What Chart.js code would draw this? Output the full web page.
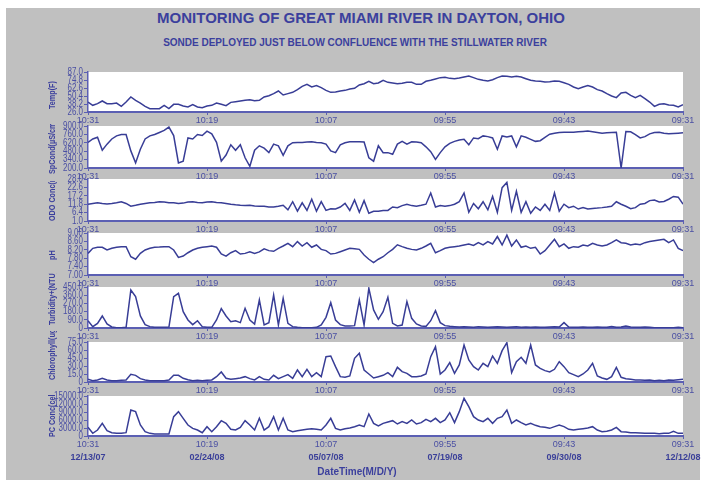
<!DOCTYPE html>
<html>
<head>
<meta charset="utf-8">
<script src="https://cdn.jsdelivr.net/npm/chart.js@4"></script>
<style>
  body { margin: 0; background: #fff; width: 705px; height: 480px; position: relative; overflow: hidden; font-family: "Liberation Sans", Arial, sans-serif; }
  #frame { position: absolute; left: 6px; top: 8px; width: 694px; height: 472px; background: #c0c0c0; }
  .head { position: absolute; left: 0; text-align: center; font-weight: bold; color: #3b3f9d; white-space: nowrap; }
  #title { top: 9px; width: 722px; font-size: 15px; line-height: 18px; }
  #subtitle { top: 37px; width: 710px; font-size: 10px; line-height: 12px; }
  canvas { position: absolute; left: 0; }
</style>
</head>
<body>
<div id="frame"></div>
<div class="head" id="title">MONITORING OF GREAT MIAMI RIVER IN DAYTON, OHIO</div>
<div class="head" id="subtitle">SONDE DEPLOYED JUST BELOW CONFLUENCE WITH THE STILLWATER RIVER</div>
<script>
// x axis: sample index 0..125 over 12/13/07 - 12/12/08
const timeLabels = ['10:31', '10:19', '10:07', '09:55', '09:43', '09:31'];
const dateLabels = ['12/13/07', '02/24/08', '05/07/08', '07/19/08', '09/30/08', '12/12/08'];
const tickAt = [0, 25, 50, 75, 100, 125];

const tempTicks = [26.0, 38.2, 50.4, 62.6, 74.8, 87.0];
const condTicks = [200, 340, 480, 620, 760, 900];
const odoTicks = [1.0, 6.4, 11.8, 17.2, 22.6, 28.0];
const phTicks = [7.0, 7.4, 7.8, 8.2, 8.6, 9.0];
const turbTicks = [0, 90, 180, 270, 360, 450];
const chlTicks = [0, 15, 30, 45, 60, 75];
const pcTicks = [0, 3000, 6000, 9000, 12000, 15000];

const tempF = [
  41.2, 36.2, 38.7, 42.8, 38.7, 38.7, 39.7, 34.6, 41.2, 48.9,
  43.8, 39.7, 34.6, 31.1, 31.1, 31.1, 36.2, 31.1, 37.7, 37.7,
  35.1, 33.6, 37.2, 33.6, 32.6, 35.1, 36.2, 39.7, 37.7, 35.6,
  40.7, 41.8, 42.8, 43.8, 44.8, 43.3, 43.8, 48.9, 50.9, 54.0,
  58.0, 51.9, 54.0, 56.0, 60.0, 65.1, 68.2, 64.1, 66.2, 63.1,
  59.0, 56.0, 56.5, 58.0, 59.0, 61.1, 62.1, 67.2, 69.2, 72.8,
  69.2, 70.2, 74.3, 71.2, 70.2, 69.2, 69.7, 71.2, 71.2, 68.2,
  68.2, 72.8, 74.3, 76.3, 78.4, 78.9, 77.3, 76.8, 77.8, 79.4,
  80.9, 78.4, 75.8, 74.3, 73.3, 75.3, 78.4, 80.9, 80.4, 79.4,
  80.4, 79.4, 76.8, 74.3, 73.3, 72.8, 71.7, 72.3, 73.3, 72.8,
  70.7, 68.2, 64.1, 61.6, 64.1, 66.2, 64.1, 60.1, 58.0, 54.0,
  50.4, 47.9, 55.0, 56.0, 51.4, 47.9, 51.4, 46.3, 41.2, 34.6,
  37.7, 38.7, 36.7, 36.2, 33.6, 37.2
];

const spCond = [
  627, 684, 712, 496, 598, 684, 735, 758, 758, 485,
  285, 513, 684, 735, 758, 792, 826, 883, 741, 285,
  314, 701, 684, 758, 741, 815, 769, 627, 314, 416,
  587, 496, 587, 371, 228, 496, 570, 530, 456, 598,
  570, 411, 570, 621, 627, 627, 632, 638, 627, 621,
  598, 485, 456, 587, 621, 638, 638, 638, 632, 371,
  314, 570, 456, 456, 428, 598, 644, 598, 638, 632,
  621, 553, 473, 342, 456, 553, 610, 644, 667, 678,
  587, 701, 689, 735, 723, 701, 513, 735, 718, 735,
  553, 735, 712, 678, 644, 655, 712, 763, 780, 792,
  797, 797, 797, 803, 809, 815, 803, 792, 780, 786,
  792, 797, 200, 809, 803, 758, 701, 723, 769, 792,
  797, 780, 769, 775, 780, 786
];

const odoConc = [
  11.8, 12.3, 12.7, 12.3, 12.0, 12.3, 12.7, 13.4, 12.3, 10.5,
  11.1, 11.8, 12.3, 12.7, 12.9, 13.4, 13.2, 12.7, 12.7, 12.3,
  12.5, 13.2, 13.4, 12.9, 12.7, 13.2, 13.4, 12.9, 12.7, 12.3,
  11.8, 11.4, 11.1, 10.9, 11.1, 10.7, 10.5, 10.5, 10.0, 10.0,
  10.5, 11.1, 8.2, 13.4, 7.3, 12.7, 7.8, 15.0, 7.3, 13.4,
  7.8, 8.9, 8.7, 10.0, 12.3, 7.8, 14.5, 6.6, 14.1, 6.0,
  7.3, 7.3, 7.8, 7.8, 10.0, 9.6, 10.9, 11.8, 10.9, 10.5,
  11.1, 11.8, 19.0, 10.0, 10.9, 10.5, 10.9, 11.8, 13.4, 19.0,
  6.6, 12.3, 8.9, 13.4, 8.2, 16.8, 6.6, 22.4, 25.8, 7.8,
  20.1, 6.6, 13.4, 6.0, 10.0, 7.8, 11.8, 7.8, 19.0, 7.3,
  11.8, 9.6, 10.5, 8.7, 9.6, 8.7, 9.1, 9.3, 9.6, 10.0,
  10.5, 13.4, 11.8, 10.5, 8.9, 9.6, 11.8, 12.3, 14.1, 14.5,
  13.2, 13.6, 15.0, 16.8, 16.3, 11.8
];

const pH = [
  8.03, 8.27, 8.32, 8.32, 8.19, 8.27, 8.32, 8.35, 8.35, 7.87,
  7.75, 8.03, 8.19, 8.27, 8.32, 8.33, 8.35, 8.35, 8.19, 7.84,
  7.90, 8.06, 8.19, 8.27, 8.32, 8.35, 8.38, 8.32, 8.00, 7.90,
  8.06, 8.16, 8.00, 8.03, 8.11, 8.03, 8.10, 8.25, 8.16, 8.13,
  8.27, 8.38, 8.51, 8.35, 8.59, 8.38, 8.54, 8.32, 8.43, 8.22,
  8.16, 8.00, 8.03, 8.11, 8.19, 8.27, 8.25, 8.22, 7.95, 7.75,
  7.59, 7.75, 7.87, 8.06, 8.22, 8.44, 8.35, 8.27, 8.22, 8.19,
  8.27, 8.38, 8.51, 8.06, 8.16, 8.27, 8.32, 8.35, 8.38, 8.43,
  8.48, 8.41, 8.54, 8.43, 8.59, 8.48, 8.83, 8.43, 8.90, 8.38,
  8.67, 8.32, 8.38, 8.27, 8.32, 8.00, 8.16, 8.43, 8.70, 8.35,
  8.48, 8.27, 8.35, 8.32, 8.43, 8.38, 8.51, 8.43, 8.38, 8.43,
  8.54, 8.67, 8.54, 8.51, 8.43, 8.48, 8.44, 8.54, 8.59, 8.63,
  8.67, 8.70, 8.54, 8.67, 8.27, 8.16
];

const turbidity = [
  80, 15, 51, 132, 44, 11, 4, 4, 7, 417,
  344, 132, 37, 15, 7, 7, 7, 11, 344, 381,
  179, 88, 37, 80, 15, 7, 7, 88, 212, 132,
  70, 80, 59, 216, 88, 44, 307, 33, 59, 362,
  33, 326, 51, 15, 7, 4, 4, 4, 7, 33,
  117, 278, 88, 37, 22, 22, 26, 307, 33, 436,
  198, 95, 179, 337, 51, 22, 33, 289, 106, 44,
  22, 18, 80, 190, 59, 26, 18, 15, 11, 15,
  11, 7, 15, 11, 7, 11, 15, 11, 7, 11,
  15, 7, 11, 7, 11, 7, 7, 11, 15, 11,
  59, 11, 7, 7, 11, 7, 7, 11, 7, 7,
  15, 7, 11, 22, 11, 7, 7, 11, 7, 4,
  4, 4, 4, 4, 7, 4
];

const chlorophyll = [
  5.0, 2.5, 3.8, 6.9, 3.8, 2.5, 2.5, 3.1, 3.8, 14.4,
  12.5, 6.3, 3.8, 2.5, 2.5, 2.5, 2.5, 3.8, 12.5, 12.5,
  6.9, 4.4, 2.5, 3.1, 2.5, 3.1, 3.8, 10.0, 18.8, 6.9,
  5.0, 6.3, 7.5, 10.0, 6.3, 3.8, 10.0, 5.0, 3.8, 12.5,
  6.3, 10.0, 13.8, 6.9, 22.5, 10.0, 23.8, 10.0, 17.5, 10.0,
  47.5, 48.8, 28.8, 10.0, 8.8, 11.3, 44.4, 53.8, 22.5, 15.0,
  7.5, 10.0, 12.5, 17.5, 10.0, 27.5, 19.4, 16.3, 10.0, 10.0,
  11.3, 15.0, 47.5, 66.3, 15.0, 22.5, 36.3, 16.3, 31.9, 69.4,
  41.3, 28.8, 22.5, 35.0, 28.8, 48.8, 35.0, 58.8, 73.8, 17.5,
  38.1, 46.3, 35.0, 69.4, 31.9, 25.6, 21.3, 18.8, 23.8, 38.1,
  28.8, 17.5, 13.8, 10.0, 15.0, 22.5, 35.0, 11.3, 7.5, 5.0,
  10.0, 27.5, 8.8, 6.3, 5.0, 3.8, 3.8, 3.1, 3.8, 2.5,
  3.1, 2.5, 3.8, 3.1, 4.4, 5.0
];

const pcConc = [
  3250, 1000, 2250, 4750, 2000, 1250, 1000, 1000, 1250, 9750,
  9125, 4125, 1625, 1000, 750, 750, 750, 750, 7250, 9125,
  6625, 4125, 2875, 2250, 1250, 3500, 1625, 3500, 5750, 4750,
  2500, 2250, 3250, 5750, 4125, 2250, 6625, 2250, 3500, 7250,
  2250, 6625, 2250, 1625, 2000, 2250, 2500, 2750, 2500, 2250,
  4125, 6625, 2875, 2250, 2750, 3000, 3500, 4125, 3500, 8250,
  4750, 3750, 4750, 5250, 5750, 4500, 5375, 4750, 6000, 4500,
  5000, 6250, 5375, 6625, 5000, 6000, 8750, 5000, 9125, 14125,
  11000, 7250, 6000, 5375, 6625, 4750, 6625, 7250, 9750, 4750,
  6000, 5000, 4125, 4750, 4000, 3500, 3250, 2875, 3500, 4125,
  3500, 2500, 2250, 2500, 2750, 3000, 3500, 2250, 1625, 1750,
  2250, 3250, 1625, 1500, 1250, 1250, 1125, 1000, 1000, 1000,
  875, 1000, 1000, 1750, 1000, 1000
];

const lineColor = '#383d96';
const axisColor = '#5b5fb3';
const labelColor = '#4a4fa3';
const font = '"Liberation Sans", Arial, sans-serif';

// page layout of each panel (plot top / bottom) and where its side title starts / is cut
const panels = [
  { data: tempF, ticks: tempTicks, dec: 1, title: 'Temp(F)', top: 72, bottom: 112, start: -3, clipTop: -3 },
  { data: spCond, ticks: condTicks, dec: 1, title: 'SpCond(\u00b5S/cm)', top: 126, bottom: 168, start: 6, clipTop: -2 },
  { data: odoConc, ticks: odoTicks, dec: 1, title: 'ODO Conc(mg/L)', top: 179, bottom: 221, start: 0, clipTop: 2 },
  { data: pH, ticks: phTicks, dec: 2, title: 'pH', top: 233, bottom: 275, start: -15, clipTop: 0 },
  { data: turbidity, ticks: turbTicks, dec: 1, title: 'Turbidity+(NTU)', top: 287, bottom: 328, start: -3, clipTop: -14 },
  { data: chlorophyll, ticks: chlTicks, dec: 1, title: 'Chlorophyll(ug/L)', top: 342, bottom: 382, start: -2, clipTop: -11 },
  { data: pcConc, ticks: pcTicks, dec: 1, title: 'PC Conc(cells/mL)', top: 396, bottom: 436, start: 1, clipTop: -1 }
];

const plotBg = {
  id: 'plotBg',
  beforeDraw(chart) {
    const { ctx, chartArea: a } = chart;
    ctx.save();
    ctx.fillStyle = '#ffffff';
    ctx.fillRect(a.left, a.top, a.right - a.left, a.bottom - a.top);
    ctx.restore();
  }
};

// y tick labels, drawn a little condensed like the original
const yLabels = {
  id: 'yLabels',
  afterDraw(chart, args, opts) {
    const { ctx } = chart;
    const s = chart.scales.y;
    ctx.save();
    ctx.font = '10px ' + font;
    ctx.fillStyle = labelColor;
    ctx.textAlign = 'right';
    ctx.textBaseline = 'middle';
    s.ticks.forEach(t => {
      const txt = t.value === 0 ? '0' : t.value.toFixed(opts.dec);
      ctx.save();
      ctx.translate(s.right - 5, s.getPixelForValue(t.value));
      ctx.scale(0.8, 1);
      ctx.fillText(txt, 0, 0);
      ctx.restore();
    });
    ctx.restore();
  }
};

const sideTitle = {
  id: 'sideTitle',
  afterDraw(chart, args, opts) {
    const { ctx, chartArea: a } = chart;
    ctx.save();
    ctx.beginPath();
    ctx.rect(40, a.top + opts.clipTop, 20, a.bottom + 12 - a.top - opts.clipTop);
    ctx.clip();
    ctx.translate(53, a.bottom + opts.start);
    ctx.rotate(-Math.PI / 2);
    ctx.scale(0.8, 1);
    ctx.font = 'bold 9px ' + font;
    ctx.fillStyle = '#3b3f9d';
    ctx.textAlign = 'left';
    ctx.textBaseline = 'middle';
    ctx.fillText(opts.text, 0, 0);
    ctx.restore();
  }
};

const xTitle = {
  id: 'xTitle',
  afterDraw(chart, args, opts) {
    if (!opts.text) return;
    const { ctx, chartArea: a } = chart;
    ctx.save();
    ctx.font = 'bold 10px ' + font;
    ctx.fillStyle = '#3b3f9d';
    ctx.textAlign = 'center';
    ctx.textBaseline = 'middle';
    ctx.fillText(opts.text, a.left + 269, a.bottom + 36);
    ctx.restore();
  }
};

panels.forEach((p, k) => {
  const last = k === panels.length - 1;
  const cv = document.createElement('canvas');
  const below = last ? 44 : 16;
  cv.width = 705;
  cv.height = p.bottom - p.top + 22 + below;
  cv.style.top = (p.top - 22) + 'px';
  document.body.appendChild(cv);

  const scales = {
    x: {
      type: 'linear',
      min: tickAt[0],
      max: tickAt[tickAt.length - 1],
      weight: 0,
      afterBuildTicks: s => { s.ticks = tickAt.map(v => ({ value: v })); },
      afterFit: s => { s.height = last ? 14 : 16; },
      grid: { drawOnChartArea: false, color: axisColor, tickLength: 3 },
      border: { color: axisColor, width: 2 },
      ticks: {
        autoSkip: false, maxRotation: 0, padding: 0,
        color: labelColor, font: { family: font, size: 9 },
        callback: (v, i) => timeLabels[i]
      }
    },
    y: {
      min: p.ticks[0],
      max: p.ticks[p.ticks.length - 1],
      afterBuildTicks: s => { s.ticks = p.ticks.map(v => ({ value: v })); },
      afterFit: s => { s.width = 88; },
      grid: { drawOnChartArea: false, color: axisColor, tickLength: 4 },
      border: { color: axisColor, width: 1.5 },
      ticks: { display: false }
    }
  };

  if (last) {
    scales.x2 = {
      type: 'linear',
      position: 'bottom',
      min: tickAt[0],
      max: tickAt[tickAt.length - 1],
      weight: 1,
      afterBuildTicks: s => { s.ticks = tickAt.map(v => ({ value: v })); },
      afterFit: s => { s.height = 14; },
      grid: { display: false, drawTicks: false },
      border: { display: false },
      ticks: {
        autoSkip: false, maxRotation: 0, padding: 2,
        color: '#3b4099', font: { family: font, size: 9, weight: 'bold' },
        callback: (v, i) => dateLabels[i]
      }
    };
  }

  new Chart(cv, {
    type: 'line',
    data: {
      labels: p.data.map((v, i) => i),
      datasets: [{
        data: p.data,
        borderColor: lineColor,
        borderWidth: 1.5,
        pointRadius: 0,
        tension: 0,
        fill: false
      }]
    },
    options: {
      responsive: false,
      animation: false,
      events: [],
      layout: { padding: { top: 22, right: 22, bottom: last ? 16 : 0, left: 0 } },
      scales: scales,
      plugins: {
        legend: { display: false },
        tooltip: { enabled: false },
        yLabels: { dec: p.dec },
        sideTitle: { text: p.title, start: p.start, clipTop: p.clipTop },
        xTitle: { text: last ? 'DateTime(M/D/Y)' : '' }
      }
    },
    plugins: [plotBg, yLabels, sideTitle, xTitle]
  });
});
</script>
</body>
</html>
